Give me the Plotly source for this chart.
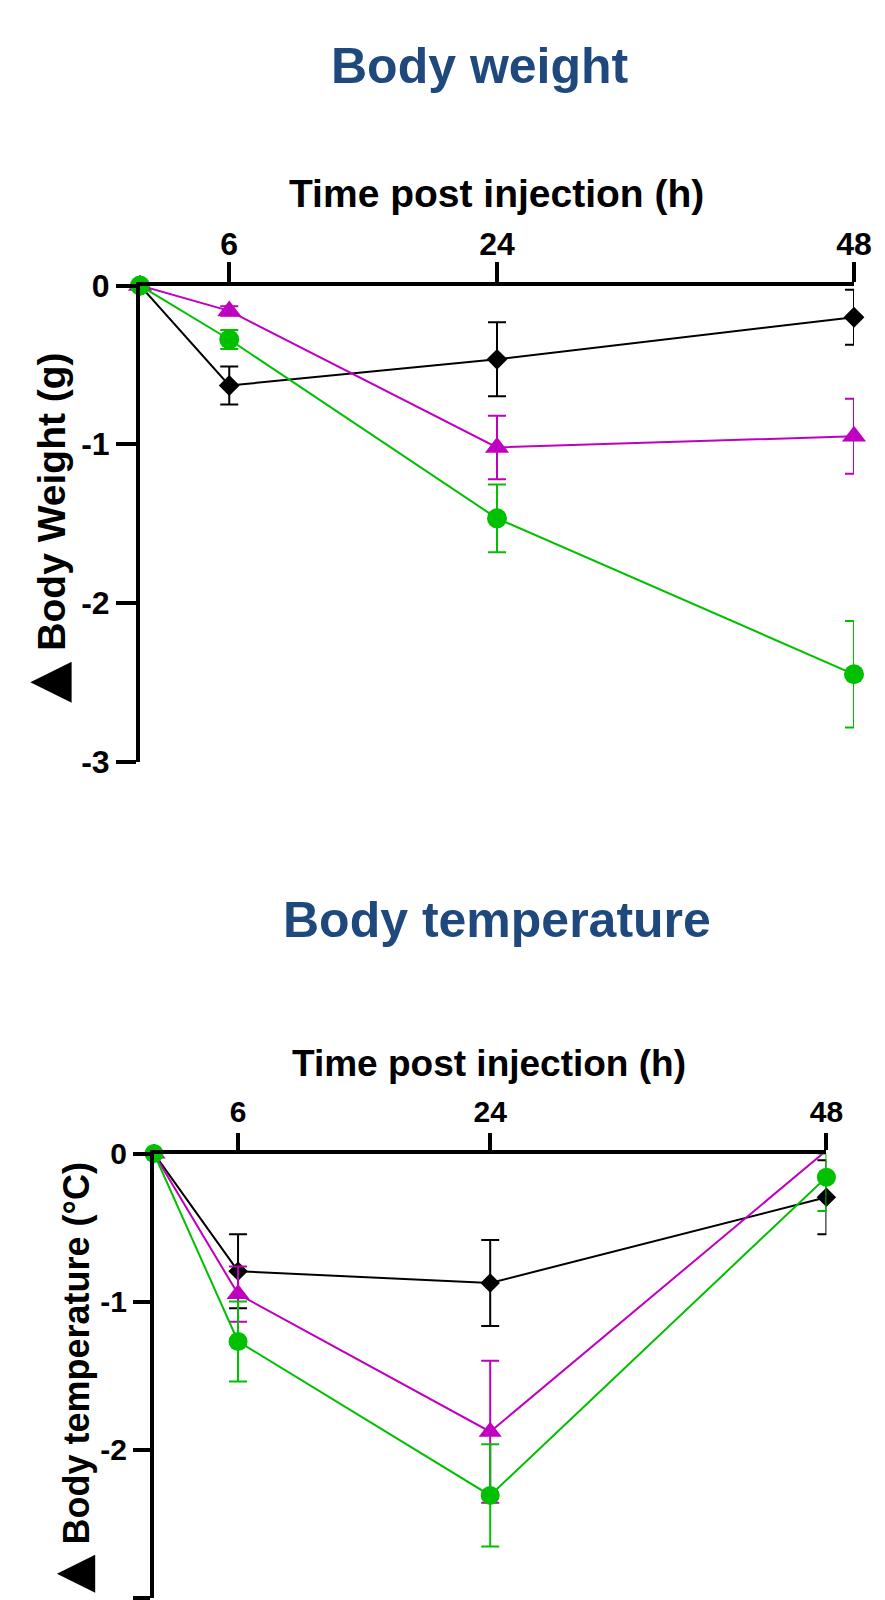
import plotly.graph_objects as go

# ---------------- data ----------------
hours = [0, 6, 24, 48]
x_tick_vals = [6, 24, 48]
x_tick_text = ["6", "24", "48"]
y_tick_vals = [0, -1, -2, -3]
y_tick_text = ["0", "-1", "-2", "-3"]

series_names = ["Group 1", "Group 2", "Group 3"]

# Body weight change (g)
weight_black = [0, -0.63, -0.465, -0.20]
weight_black_err = [0, 0.12, 0.233, 0.173]
weight_magenta = [0, -0.16, -1.02, -0.95]
weight_magenta_err = [0, 0.03, 0.20, 0.236]
weight_green = [0, -0.34, -1.467, -2.449]
weight_green_err = [0, 0.06, 0.213, 0.335]

# Body temperature change (°C)
temp_black = [0, -0.795, -0.875, -0.296]
temp_black_err = [0, 0.25, 0.29, 0.25]
temp_magenta = [0, -0.95, -1.88, 0.02]
temp_magenta_err = [0, 0.186, 0.48, 0]
temp_green = [0, -1.27, -2.31, -0.16]
temp_green_err_plus = [0, 0.27, 0.345, 0.16]
temp_green_err_minus = [0, 0.27, 0.345, 0.229]

titles = ["Body weight", "Body temperature"]
x_title = "Time post injection (h)"
y_title_mark = "▲"
y_titles = ["Body Weight (g)", "Body temperature (°C)"]

# ---------------- style ----------------
FONT = "Liberation Sans, Arial, sans-serif"
BLACK = "#000000"
MAGENTA = "#C000C0"
GREEN = "#00C000"
TITLE_BLUE = "#1F497D"
PAGE_OFF = 8          # default body margin of the html page
W, H = 885 - PAGE_OFF, 1600 - PAGE_OFF


def px_x(p):
    return (p - PAGE_OFF) / W


def px_y(p):
    return 1 - (p - PAGE_OFF) / H


fig = go.Figure()


def add_series(xa, ya, y, err_plus, err_minus, color, symbol, msize, name, clip):
    fig.add_trace(go.Scatter(
        x=hours, y=y, xaxis=xa, yaxis=ya, name=name,
        mode="lines+markers",
        line=dict(color=color, width=2),
        marker=dict(symbol=symbol, size=msize, color=color, line=dict(width=0)),
        error_y=dict(type="data", array=err_plus, arrayminus=err_minus,
                     symmetric=False, color=color, thickness=2, width=9),
        cliponaxis=clip, showlegend=False,
    ))


# top chart
add_series("x", "y", weight_black, weight_black_err, weight_black_err, BLACK, "diamond", 16, series_names[0], False)
add_series("x", "y", weight_magenta, weight_magenta_err, weight_magenta_err, MAGENTA, "triangle-up", 21, series_names[1], False)
add_series("x", "y", weight_green, weight_green_err, weight_green_err, GREEN, "circle", 20, series_names[2], False)

# bottom chart
add_series("x2", "y2", temp_black, temp_black_err, temp_black_err, BLACK, "diamond", 15, series_names[0], False)
add_series("x2", "y2", temp_magenta, temp_magenta_err, temp_magenta_err, MAGENTA, "triangle-up", 20, series_names[1], True)
add_series("x2", "y2", temp_green, temp_green_err_plus, temp_green_err_minus, GREEN, "circle", 19, series_names[2], False)


def xaxis_cfg(dom, anchor, tlen, tfont, standoff):
    return dict(domain=dom, anchor=anchor, side="top", range=[0, 48],
                tickmode="array", tickvals=x_tick_vals, ticktext=x_tick_text,
                ticks="outside", ticklen=tlen, tickwidth=4, tickcolor=BLACK,
                ticklabelstandoff=standoff,
                showline=True, linewidth=4, linecolor=BLACK,
                showgrid=False, zeroline=False, automargin=False,
                tickfont=dict(family=FONT, size=tfont, color=BLACK, weight="bold"))


def yaxis_cfg(dom, anchor, tlen, tfont):
    return dict(domain=dom, anchor=anchor, range=[-3, 0],
                tickmode="array", tickvals=y_tick_vals, ticktext=y_tick_text,
                ticks="outside", ticklen=tlen, tickwidth=4, tickcolor=BLACK,
                showline=True, linewidth=4, linecolor=BLACK,
                showgrid=False, zeroline=False, automargin=False,
                tickfont=dict(family=FONT, size=tfont, color=BLACK, weight="bold"))


fig.update_layout(
    width=W, height=H,
    margin=dict(l=0, r=0, t=0, b=0),
    paper_bgcolor="white", plot_bgcolor="white",
    showlegend=False,
    xaxis=xaxis_cfg([px_x(140), px_x(854)], "y", 20, 32, -6),
    yaxis=yaxis_cfg([px_y(761.7), px_y(285.5)], "x", 20, 32),
    xaxis2=xaxis_cfg([px_x(154), px_x(826.4)], "y2", 17, 30, -1),
    yaxis2=yaxis_cfg([px_y(1597.5), px_y(1153.5)], "x2", 17, 30),
)


def ytitle(mark, text, tri_size):
    return ("<span style=\"font-family:'DejaVu Sans';font-size:%dpx\">%s</span> %s"
            % (tri_size, mark, text))


annos = [
    dict(text=titles[0], x=px_x(480), y=px_y(65.5), size=50, color=TITLE_BLUE, angle=0),
    dict(text=titles[1], x=px_x(496.7), y=px_y(920), size=50, color=TITLE_BLUE, angle=0),
    dict(text=x_title, x=px_x(497), y=px_y(193.2), size=39, color=BLACK, angle=0),
    dict(text=x_title, x=px_x(489), y=px_y(1063.9), size=37, color=BLACK, angle=0),
    dict(text=ytitle(y_title_mark, y_titles[0], 54), x=px_x(46), y=px_y(528), size=39, color=BLACK, angle=-90),
    dict(text=ytitle(y_title_mark, y_titles[1], 50), x=px_x(72), y=px_y(1378), size=36, color=BLACK, angle=-90),
]
for a in annos:
    fig.add_annotation(
        text=a["text"], x=a["x"], y=a["y"], xref="paper", yref="paper",
        xanchor="center", yanchor="middle", showarrow=False, textangle=a["angle"],
        font=dict(family=FONT, size=a["size"], color=a["color"], weight="bold"),
    )

fig.write_html("out.html")
